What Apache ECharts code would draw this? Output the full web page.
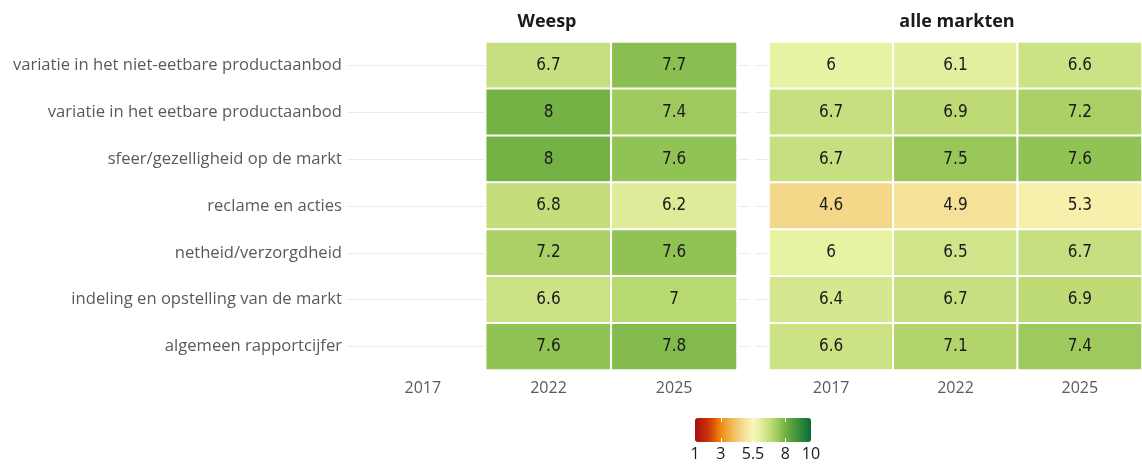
<!DOCTYPE html>
<html>
<head>
<meta charset="utf-8">
<script src="https://cdn.jsdelivr.net/npm/echarts@6/dist/echarts.min.js"></script>
<style>
  html, body { margin: 0; padding: 0; background: #fff; }
  #chart { width: 1142px; height: 465px; }
</style>
</head>
<body>
<div id="chart"></div>
<script>
const aspects = [
  'variatie in het niet-eetbare productaanbod',
  'variatie in het eetbare productaanbod',
  'sfeer/gezelligheid op de markt',
  'reclame en acties',
  'netheid/verzorgdheid',
  'indeling en opstelling van de markt',
  'algemeen rapportcijfer'
]
const years = ['2017', '2022', '2025']

// Weesp has no 2017 measurement
const weesp2022 = [6.7, 8, 8, 6.8, 7.2, 6.6, 7.6]
const weesp2025 = [7.7, 7.4, 7.6, 6.2, 7.6, 7, 7.8]

const alle2017 = [6, 6.7, 6.7, 4.6, 6, 6.4, 6.6]
const alle2022 = [6.1, 6.9, 7.5, 4.9, 6.5, 6.7, 7.1]
const alle2025 = [6.6, 7.2, 7.6, 5.3, 6.7, 6.9, 7.4]

const legendTicks = [1, 3, 5.5, 8, 10]

// colours every half point from 1 to 10
const scaleColors = [
  '#a50f15', '#b8200e', '#cc3508', '#de5c04', '#ee8a0e', '#f0a53a',
  '#f2bd5f', '#f4d385', '#f7e59e', '#f9f5b7', '#e8f2a3', '#d0e48a',
  '#b8d870', '#98c658', '#74b245', '#56a03f', '#3b8f3a', '#217d36', '#086a33'
]

function toCells(yearIdx, values) {
  return values.map((v, i) => [yearIdx, i, v])
}

const weespData = [...toCells(1, weesp2022), ...toCells(2, weesp2025)]
const alleData = [...toCells(0, alle2017), ...toCells(1, alle2022), ...toCells(2, alle2025)]

const chart = echarts.init(document.getElementById('chart'))

const textColor = '#5a5a5a'
const font = 'Open Sans'

const cellLabel = {
  show: true,
  color: '#1a1a1a',
  fontSize: 17,
  fontFamily: 'DejaVu Sans Condensed',
  formatter: (p) => String(p.value[2])
}

const heatYAxis = (gridIndex) => ({
  type: 'category',
  gridIndex,
  data: aspects,
  inverse: true,
  axisLine: { show: false },
  axisTick: { show: false },
  axisLabel: { show: false },
  splitLine: { show: false }
})

const heatXAxis = (gridIndex) => ({
  type: 'category',
  gridIndex,
  data: years,
  axisLine: { show: false },
  axisTick: { show: false },
  axisLabel: { color: textColor, fontSize: 16, fontFamily: font, margin: 10 },
  splitLine: { show: false }
})

// background axes only draw the row gridlines (and the row names)
const bgYAxis = (gridIndex, labels) => ({
  type: 'category',
  gridIndex,
  data: aspects,
  inverse: true,
  boundaryGap: false,
  axisLine: { show: false },
  axisTick: { show: false },
  axisLabel: labels
    ? { show: true, color: textColor, fontSize: 16.6, fontFamily: font, margin: 5 }
    : { show: false },
  splitLine: { show: true, lineStyle: { color: '#ebebeb', width: 1 } }
})

const hiddenX = (gridIndex) => ({
  type: 'value',
  gridIndex,
  show: false
})

const titleStyle = { fontSize: 18, fontWeight: 'bold', color: '#1a1a1a', fontFamily: font }

const option = {
  backgroundColor: '#fff',
  title: [
    { text: 'Weesp', left: 542, top: 8, textAlign: 'center', textStyle: titleStyle },
    { text: 'alle markten', left: 952, top: 8, textAlign: 'center', textStyle: titleStyle }
  ],
  grid: [
    { left: 360, top: 42, width: 377, height: 328 },
    { left: 769, top: 42, width: 373, height: 328 },
    { left: 347, top: 65.4, width: 403, height: 281.2 },
    { left: 756, top: 65.4, width: 386, height: 281.2 },
    { left: 695, top: 418, width: 116, height: 24 }
  ],
  xAxis: [
    heatXAxis(0),
    heatXAxis(1),
    hiddenX(2),
    hiddenX(3),
    {
      type: 'value', gridIndex: 4, min: 1, max: 10, z: 10,
      axisLine: { show: false },
      splitLine: { show: false },
      axisTick: { show: true, inside: true, length: 4, customValues: [3, 5.5, 8],
        lineStyle: { color: '#fff', width: 1 } },
      axisLabel: { show: true, customValues: legendTicks, color: '#1a1a1a', fontSize: 16,
        fontFamily: font, margin: 4, formatter: (v) => String(v) }
    },
    {
      type: 'value', gridIndex: 4, position: 'top', min: 1, max: 10, z: 10,
      axisLine: { show: false },
      splitLine: { show: false },
      axisLabel: { show: false },
      axisTick: { show: true, inside: true, length: 4, customValues: [3, 5.5, 8],
        lineStyle: { color: '#fff', width: 1 } }
    }
  ],
  yAxis: [
    heatYAxis(0),
    heatYAxis(1),
    bgYAxis(2, true),
    bgYAxis(3, false),
    { type: 'value', gridIndex: 4, show: false }
  ],
  visualMap: {
    type: 'continuous',
    min: 1,
    max: 10,
    calculable: false,
    orient: 'horizontal',
    left: 680,
    top: 403,
    itemWidth: 24,
    itemHeight: 116,
    text: null,
    seriesIndex: [0, 1],
    inRange: { color: scaleColors }
  },
  series: [
    {
      name: 'Weesp',
      type: 'heatmap',
      xAxisIndex: 0,
      yAxisIndex: 0,
      data: weespData,
      label: cellLabel,
      itemStyle: { borderColor: '#fff', borderWidth: 2 }
    },
    {
      name: 'alle markten',
      type: 'heatmap',
      xAxisIndex: 1,
      yAxisIndex: 1,
      data: alleData,
      label: cellLabel,
      itemStyle: { borderColor: '#fff', borderWidth: 2 }
    }
  ]
}

chart.setOption(option)
</script>
</body>
</html>
